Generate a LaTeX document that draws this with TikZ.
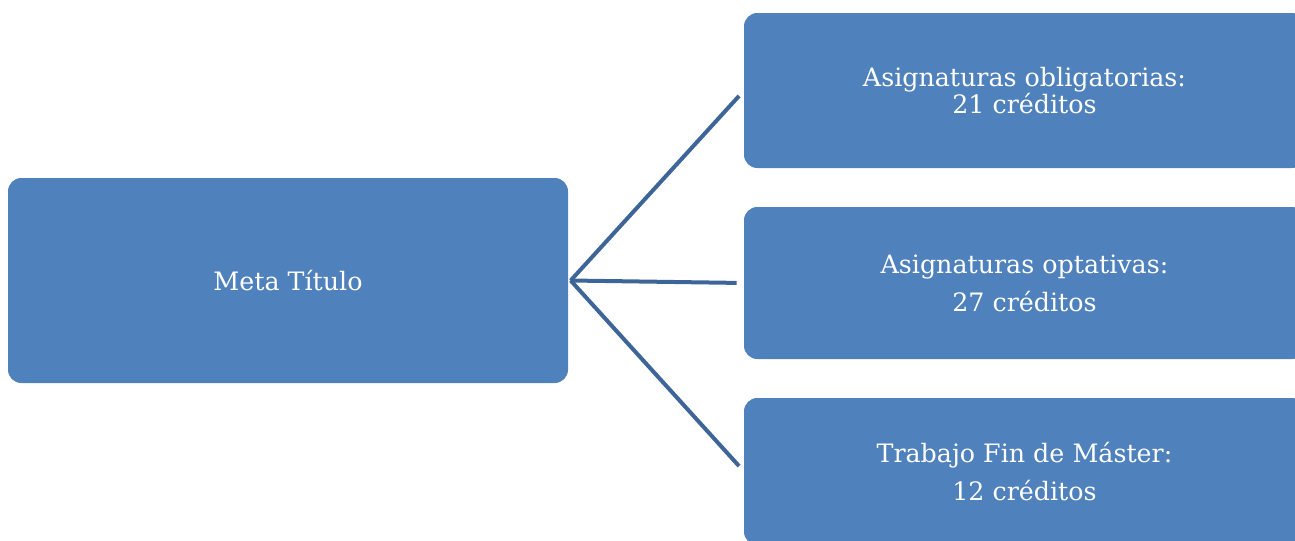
\documentclass[tikz,border=0pt]{standalone}
\usepackage{fontspec}
\setmainfont{DejaVu Serif}
\usepackage{tikz}
\definecolor{boxblue}{HTML}{4F81BD}
\definecolor{lineblue}{HTML}{3D6598}
\tikzstyle{block} = [fill=boxblue, rectangle, rounded corners=10pt,
    text=white, align=center, inner sep=0pt, outer sep=0pt,
    font=\fontsize{19}{20.25}\selectfont]
\tikzstyle{link} = [draw=lineblue, line width=3pt, shorten >=5.5pt]

\begin{document}
\begin{tikzpicture}[x=0.75pt, y=-0.75pt]
    \path [use as bounding box, clip] (0,0) rectangle (1295,540);
    \node [block, minimum width=420pt, minimum height=153.75pt] (meta) at (288,280.5) {Meta Título};
    \node [block, minimum width=420.75pt, minimum height=116.25pt] (oblig) at (1024.5,90.5)
        {Asignaturas obligatorias:\\21 créditos};
    \node [block, minimum width=420.75pt, minimum height=114pt] (optat) at (1024.5,283)
        {Asignaturas optativas:\\[8.25pt]27 créditos};
    \node [block, minimum width=420.75pt, minimum height=110.25pt] (tfm) at (1024.5,471.5)
        {Trabajo Fin de Máster:\\[8.25pt]12 créditos};
    \draw [link] ([xshift=2pt]meta.east) -- (oblig.west);
    \draw [link] ([xshift=2pt]meta.east) -- (optat.west);
    \draw [link] ([xshift=2pt]meta.east) -- (tfm.west);
\end{tikzpicture}
\end{document}
